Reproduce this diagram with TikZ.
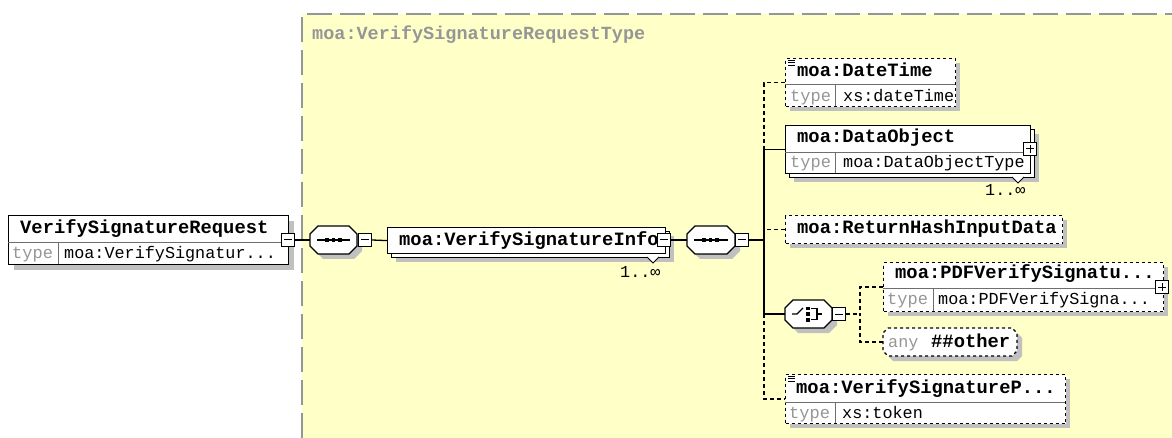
\documentclass[tikz,border=0pt]{standalone}
\usepackage{fontspec}
\newfontfamily\mono{Liberation Mono}
\usetikzlibrary{calc}
\definecolor{regionfill}{RGB}{255,255,200}
\definecolor{regionline}{RGB}{150,150,150}
\definecolor{shadowc}{RGB}{192,192,192}
\definecolor{typegray}{RGB}{150,150,150}
\definecolor{divc}{RGB}{110,110,110}
\newcommand\octagon[6]{\path[#1] (#2+#6,#3) -- (#4-#6,#3) -- (#4,#3+#6) -- (#4,#5-#6) -- (#4-#6,#5) -- (#2+#6,#5) -- (#2,#5-#6) -- (#2,#3+#6) -- cycle;}
\tikzset{
  box/.style={draw=black, fill=white, line width=1.2pt, rectangle, inner sep=0pt, anchor=north west},
  optbox/.style={box, dash pattern=on 3pt off 3pt},
  inv/.style={rectangle, inner sep=0pt},
  sh/.style={fill=shadowc},
  comp/.style={draw=black, fill=white, line width=1.2pt},
  divl/.style={draw=divc, line width=1pt},
  ttl/.style={font=\mono\bfseries\fontsize{18.8}{19}\selectfont, anchor=base west, inner sep=0pt},
  tlab/.style={font=\mono\fontsize{17}{17}\selectfont, text=typegray, anchor=base west, inner sep=0pt},
  tval/.style={font=\mono\fontsize{16.8}{17}\selectfont, anchor=base west, inner sep=0pt},
  conn/.style={draw=black, line width=1.3pt},
  dconn/.style={draw=black, line width=1.3pt, dash pattern=on 4pt off 3pt},
  mn/.style={draw=black, fill=white, line width=1pt, minimum size=13pt, inner sep=0pt,
    path picture={\draw[line width=1pt] ([xshift=-4pt]path picture bounding box.center) -- ([xshift=4pt]path picture bounding box.center);}},
  pl/.style={draw=black, fill=white, line width=1pt, minimum size=13pt, inner sep=0pt,
    path picture={\draw[line width=1pt] ([xshift=-4pt]path picture bounding box.center) -- ([xshift=4pt]path picture bounding box.center);
      \draw[line width=1pt] ([yshift=-4pt]path picture bounding box.center) -- ([yshift=4pt]path picture bounding box.center);}},
}
\begin{document}
\begin{tikzpicture}[x=1pt,y=-1pt]
\useasboundingbox (0,0) rectangle (1172,438);
% region
\fill[regionfill] (302,14) rectangle (1172,438);
\draw[regionline, line width=2pt, dash pattern=on 25pt off 8pt] (302,438) -- (302,14) -- (1172,14);
\node[font=\mono\bfseries\fontsize{18.5}{19}\selectfont, text=regionline, anchor=base west, inner sep=0pt] (rlab) at (312,40) {moa:VerifySignatureRequestType};

% ---------- VerifySignatureRequest
\fill[sh] (14,221) rectangle (294,270);
\node[box, minimum width=280pt, minimum height=49pt] (vsr) at (8,215) {};
\draw[divl] (8,243) -- (288,243);
\draw[divl] (58,243) -- (58,264);
\node[ttl] (vsrt) at (20,234) {VerifySignatureRequest};
\node[tlab] (vsrl) at (12,259) {type};
\node[tval] (vsrv) at (64,259) {moa:VerifySignatur...};
\node[mn] (vsrm) at (288,240) {};

% ---------- sequence 1
\octagon{sh}{315}{231}{362}{259}{8}
\octagon{comp}{310}{226}{357}{254}{8}
\node[inv, minimum width=47pt, minimum height=28pt] (seq1) at (333.5,240) {};
\draw[line width=1.2pt] (317,240) -- (350,240);
\foreach \xx in {327,333.5,340} {\fill (\xx-1.8,238.2) rectangle (\xx+1.8,241.8);}
\node[mn] (seq1m) at (365,240) {};

% ---------- VerifySignatureInfo (stacked)
\fill[sh] (396,236) rectangle (674,262);
\node[box, minimum width=278pt, minimum height=26pt] (vsib) at (391,231) {};
\node[box, minimum width=278pt, minimum height=26pt] (vsi) at (387,227) {};
\node[ttl] (vsit) at (399,246) {moa:VerifySignatureInfo};
\node[mn] (vsim) at (664,240) {};
\draw[line width=1pt, fill=white] (647,257) -- (653,263) -- (659,257);
\node[tval] (vsicard) at (620,277) {1..∞};

% ---------- sequence 2
\octagon{sh}{692}{231}{740}{259}{8}
\octagon{comp}{687}{226}{735}{254}{8}
\node[inv, minimum width=48pt, minimum height=28pt] (seq2) at (711,240) {};
\draw[line width=1.2pt] (694,240) -- (728,240);
\foreach \xx in {704,710.5,717} {\fill (\xx-1.8,238.2) rectangle (\xx+1.8,241.8);}
\node[mn] (seq2m) at (742,240) {};

% ---------- DateTime
\fill[sh] (790,63) rectangle (960,111);
\node[optbox, minimum width=170pt, minimum height=48pt] (dt) at (785,58) {};
\draw[divl] (785,85) -- (955,85);
\draw[divl] (835,85) -- (835,106);
\foreach \yy in {60,62.5,65} {\draw[line width=0.8pt] (788,\yy) -- (795,\yy);}
\node[ttl] (dtt) at (797,77) {moa:DateTime};
\node[tlab] (dtl) at (790,102) {type};
\node[tval] (dtv) at (843,102) {xs:dateTime};

% ---------- DataObject (stacked)
\fill[sh] (794,134) rectangle (1039,182);
\node[box, minimum width=245pt, minimum height=48pt] (dob) at (789,129) {};
\node[box, minimum width=245pt, minimum height=48pt] (do) at (785,125) {};
\draw[divl] (785,153) -- (1030,153);
\draw[divl] (835,153) -- (835,173);
\node[ttl] (dot) at (797,143) {moa:DataObject};
\node[tlab] (dol) at (790,168) {type};
\node[tval] (dov) at (843,168) {moa:DataObjectType};
\node[pl] (dop) at (1030,149) {};
\draw[line width=1pt, fill=white] (1012,177) -- (1018,183) -- (1024,177);
\node[tval] (docard) at (985,196) {1..∞};

% ---------- ReturnHashInputData
\fill[sh] (790,220) rectangle (1067,248);
\node[optbox, minimum width=277pt, minimum height=28pt] (rh) at (785,215) {};
\node[ttl] (rht) at (797,234) {moa:ReturnHashInputData};

% ---------- choice
\octagon{sh}{790}{305}{837}{333}{8}
\octagon{comp}{785}{300}{832}{328}{8}
\node[inv, minimum width=47pt, minimum height=28pt] (ch) at (808.5,314) {};
\draw[line width=1.2pt] (792,314) -- (797,314) -- (803,308);
\fill (806,306.5) rectangle (809.5,310);
\fill (806,312.3) rectangle (809.5,315.8);
\fill (806,318) rectangle (809.5,321.5);
\draw[line width=1.2pt] (811,308.2) -- (817,308.2) -- (817,319.8) -- (811,319.8);
\draw[line width=1.2pt] (817,314) -- (822,314);
\node[mn] (chm) at (839,314) {};

% ---------- PDFVerifySignatu...
\fill[sh] (888,267) rectangle (1168,316);
\node[optbox, minimum width=280pt, minimum height=49pt] (pdf) at (883,262) {};
\draw[divl] (883,288) -- (1163,288);
\draw[divl] (933,288) -- (933,311);
\node[ttl] (pdft) at (895,279) {moa:PDFVerifySignatu...};
\node[tlab] (pdfl) at (887,305) {type};
\node[tval] (pdfv) at (938,305) {moa:PDFVerifySigna...};
\node[pl] (pdfp) at (1162,287) {};

% ---------- any ##other
\octagon{sh}{888}{333}{1022}{361}{5}
\octagon{comp, dash pattern=on 3pt off 3pt}{883}{328}{1017}{356}{5}
\node[inv, minimum width=134pt, minimum height=28pt] (anyn) at (950,342) {};
\node[font=\mono\fontsize{16.8}{17}\selectfont, text=typegray, anchor=base west, inner sep=0pt] (anyl) at (888,347) {any};
\node[ttl] (anyt) at (931,347) {\#\#other};

% ---------- VerifySignatureP...
\fill[sh] (790,379) rectangle (1070,428);
\node[optbox, minimum width=280pt, minimum height=49pt] (vsp) at (785,374) {};
\draw[divl] (785,402) -- (1065,402);
\draw[divl] (835,402) -- (835,423);
\foreach \yy in {376,378.5,381} {\draw[line width=0.8pt] (788,\yy) -- (795,\yy);}
\node[ttl] (vspt) at (796,393) {moa:VerifySignatureP...};
\node[tlab] (vspl) at (789,418) {type};
\node[tval] (vspv) at (842,418) {xs:token};

% ---------- connectors
\coordinate (tr) at (764,0);
\coordinate (cj) at (860,314);
\draw[conn] (vsrm.east) -- (seq1.west);
\draw[conn] (seq1m.east) -- (vsi.west);
\draw[conn] (vsim.east) -- (seq2.west);
\draw[conn] (seq2m.east) -- (seq2m.east -| tr);
\draw[dconn] (dt.west) -- (dt.west -| tr) -- (do.west -| tr);
\draw[conn] (do.west) -- (do.west -| tr) -- (ch.west -| tr) -- (ch.west);
\draw[dconn] (rh.west) -- (rh.west -| tr);
\draw[dconn] (ch.west -| tr) -- (vsp.west -| tr) -- (vsp.west);
\draw[dconn] (chm.east) -- (cj);
\draw[dconn] (pdf.west) -| (cj);
\draw[dconn] (anyn.west) -| (cj);
\end{tikzpicture}
\end{document}
